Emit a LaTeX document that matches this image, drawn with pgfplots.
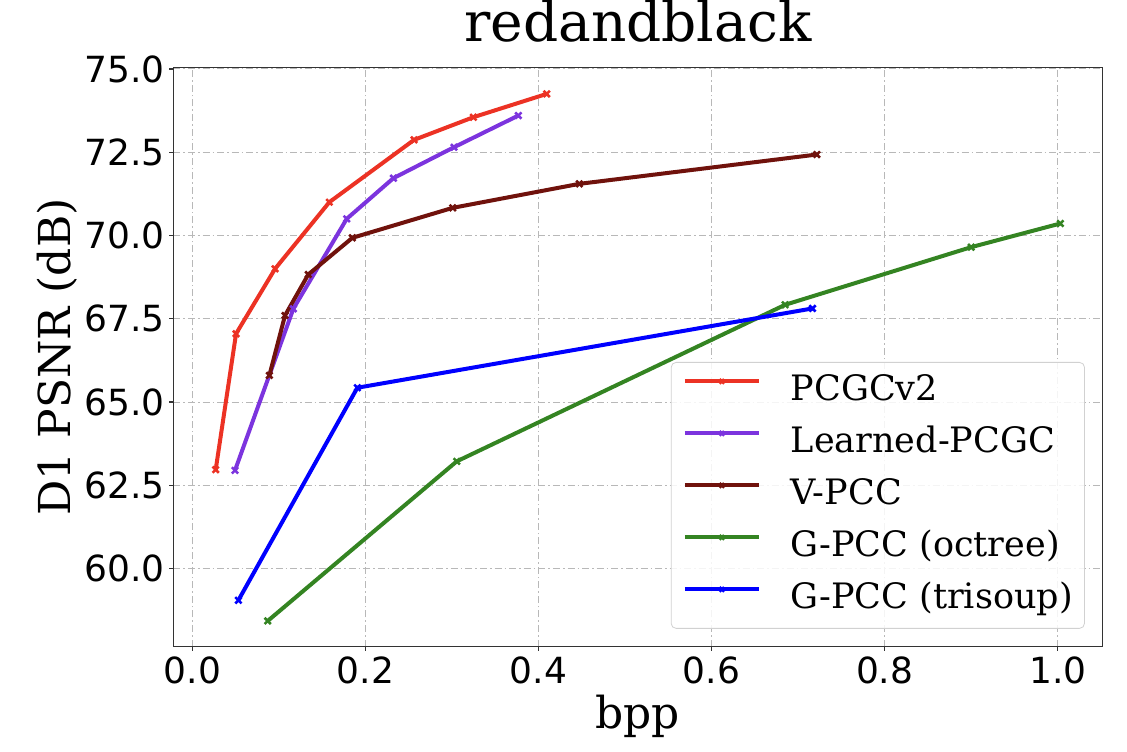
\documentclass[border=0pt]{standalone}
\usepackage{pgfplots}
\pgfplotsset{compat=1.18}
\usepackage{fontspec}
\setmainfont{DejaVu Serif}
\newfontfamily\ticksf{DejaVu Sans}
\usetikzlibrary{calc}
\definecolor{cpcgc}{RGB}{236,50,36}
\definecolor{clearn}{RGB}{124,52,222}
\definecolor{cvpcc}{RGB}{112,18,12}
\definecolor{coct}{RGB}{52,132,34}
\definecolor{ctri}{RGB}{0,0,255}

\begin{document}
\begin{tikzpicture}
\begin{axis}[
  name=ax,
  scale only axis,
  width=464.5pt, height=289.5pt,
  xmin=-0.022, xmax=1.0515,
  ymin=57.66, ymax=75.04,
  xtick={0,0.2,...,1.0},
  ytick={60,62.5,...,75},
  /pgf/number format/.cd, fixed, fixed zerofill, precision=1, assume math mode=true,
  /pgfplots/.cd,
  ticklabel style={font=\ticksf\fontsize{18}{20}\selectfont},
  xticklabel style={inner sep=3pt},
  yticklabel style={inner sep=2pt},
  tick align=outside,
  major tick length=2pt,
  tick style={black!80, line width=0.6pt},
  xtick pos=bottom, ytick pos=left,
  axis line style={black!80, line width=0.6pt},
  grid=major,
  grid style={black!28, line width=0.5pt, dash pattern=on 3.5pt off 1.5pt on 0.8pt off 1.5pt},
  title={redandblack},
  title style={font=\fontsize{27.5}{30}\selectfont, inner sep=0pt, at={(axis description cs:0.5,1)}, anchor=base, yshift=6.9pt},
  xlabel={bpp},
  xlabel style={font=\fontsize{22}{24}\selectfont, inner sep=0pt, at={(axis description cs:0.5,0)}, anchor=base, yshift=-41pt},
  ylabel={D1 PSNR (dB)},
  ylabel style={font=\fontsize{22}{24}\selectfont, inner sep=0pt, at={(axis description cs:-0.1249,0.5)}, anchor=center},
  every axis plot/.append style={line width=2pt, mark=x, mark size=2.2pt, mark options={solid, line width=1.3pt}},
  legend style={
    at={(axis description cs:1,0)}, anchor=south east, xshift=-8.7pt, yshift=8.9pt,
    draw=black!18, rounded corners=2.5pt, fill=white, fill opacity=0.85, text opacity=1,
    font=\fontsize{17.5}{20}\selectfont,
    inner xsep=5.85pt, inner ysep=6pt,
    row sep=9pt, column sep=15pt,
    nodes={inner sep=0pt, text height=13pt, text depth=4pt},
  },
  legend cell align=left,
  legend image code/.code={
    \draw[mark repeat=2, mark phase=2, mark size=1.6pt, yshift=5pt] plot coordinates {(0pt,0pt) (18.5pt,0pt) (37pt,0pt)};
  },
]
\addplot[cpcgc] coordinates {
  (0.027,62.97) (0.0505,67.05) (0.0956,69.0) (0.1583,71.0) (0.2562,72.87) (0.3247,73.55) (0.4095,74.25)
};
\addlegendentry{PCGCv2}
\addplot[clearn] coordinates {
  (0.0493,62.95) (0.1167,67.8) (0.1784,70.5) (0.2323,71.72) (0.3024,72.65) (0.3767,73.6)
};
\addlegendentry{Learned-PCGC}
\addplot[cvpcc] coordinates {
  (0.089,65.8) (0.1071,67.6) (0.134,68.83) (0.1849,69.93) (0.3009,70.83) (0.4472,71.55) (0.7216,72.43)
};
\addlegendentry{V-PCC}
\addplot[coct] coordinates {
  (0.0871,58.43) (0.3055,63.22) (0.685,67.92) (0.900,69.65) (1.003,70.36)
};
\addlegendentry{G-PCC (octree)}
\addplot[ctri] coordinates {
  (0.0532,59.05) (0.1907,65.43) (0.7166,67.81)
};
\addlegendentry{G-PCC (trisoup)}
\end{axis}
\path[use as bounding box] ($(ax.south west)+(-86.65pt,-52.6pt)$) rectangle ($(ax.north east)+(12.35pt,30.35pt)$);
\end{tikzpicture}
\end{document}
